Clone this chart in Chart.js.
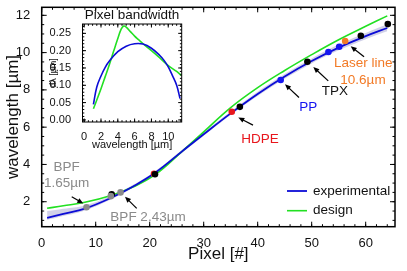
<!DOCTYPE html>
<html>
<head>
<meta charset="utf-8">
<script src="https://cdn.jsdelivr.net/npm/chart.js@4.4.1/dist/chart.umd.min.js"></script>
<style>
  html, body { margin: 0; padding: 0; background: #fff; }
  #wrap { position: relative; width: 407px; height: 271px; }
  #main { position: absolute; left: 0; top: 0; }
  #inset { position: absolute; left: 45px; top: 0; }
</style>
</head>
<body>
<div id="wrap">
  <canvas id="main" width="407" height="271"></canvas>
  <canvas id="inset" width="145" height="156"></canvas>
</div>
<script>
// main curves (pixel -> wavelength)
const pixels = [1, 4, 8, 13, 17, 21, 26, 30, 35, 40, 45, 50, 55, 60, 64];
const experimental = [1.14, 1.35, 1.63, 2.23, 2.83, 3.55, 4.7, 5.62, 6.74, 7.78, 8.72, 9.55, 10.27, 10.88, 11.32];
const design = [1.65, 1.78, 1.97, 2.35, 2.8, 3.45, 4.7, 5.75, 7.05, 8.12, 9.04, 9.89, 10.69, 11.41, 11.97];
const bandUpper = [1.5, 1.62, 1.8, 2.33, 2.92, 3.64, 4.79, 5.71, 6.84, 7.9, 8.85, 9.69, 10.43, 11.05, 11.52];
const bandLower = [1.02, 1.23, 1.53, 2.15, 2.76, 3.48, 4.62, 5.54, 6.65, 7.67, 8.6, 9.42, 10.12, 10.72, 11.14];

// calibration points
const blackX = [12.96, 20.98, 36.7, 49.2, 59.1, 64.1];
const blackY = [2.4, 3.47, 7.09, 9.51, 10.9, 11.53];
const grayX = [8.3, 12.8, 14.6];
const grayY = [1.7, 2.3, 2.5];
const redX = [20.8, 35.2];
const redY = [3.5, 6.83];
const blueX = [44.26, 53.1, 55.1];
const blueY = [8.53, 10.03, 10.31];
const orangeX = [56.2];
const orangeY = [10.62];

const xTicks = [0, 10, 20, 30, 40, 50, 60];
const yTicks = [2, 4, 6, 8, 10, 12];

// inset: pixel bandwidth
const insetLambdaExp = [1.1, 1.5, 2, 2.5, 3, 4, 5, 6, 7, 8, 9, 9.5, 10, 10.5, 11, 11.4];
const insetExp = [0.045, 0.095, 0.127, 0.152, 0.17, 0.197, 0.213, 0.22, 0.219, 0.207, 0.186, 0.172, 0.153, 0.128, 0.1, 0.062];
const insetLambdaDes = [1.1, 2, 2.5, 3, 3.5, 4, 4.4, 4.7, 5, 5.5, 6, 6.5, 7, 8, 9, 10, 11, 11.6];
const insetDes = [0.032, 0.09, 0.125, 0.16, 0.198, 0.235, 0.262, 0.271, 0.268, 0.255, 0.242, 0.231, 0.22, 0.2, 0.179, 0.157, 0.14, 0.128];
const insetXTicks = [0, 2, 4, 6, 8, 10];
const insetYTicks = [0, 0.05, 0.1, 0.15, 0.2, 0.25];

const FONT = 'Liberation Sans, Arial, sans-serif';
const xy = (xs, ys) => xs.map((x, i) => ({ x: x, y: ys[i] }));
const steps = (from, to, step) => {
  const out = [];
  for (let v = from; v <= to + 1e-9; v += step) out.push(+v.toFixed(4));
  return out;
};

// inward ticks on all four sides plus the box
const frameTicks = {
  id: 'frameTicks',
  afterDraw(chart, args, opts) {
    const { ctx, chartArea: a, scales: { x, y } } = chart;
    const line = (x1, y1, x2, y2) => { ctx.beginPath(); ctx.moveTo(x1, y1); ctx.lineTo(x2, y2); ctx.stroke(); };
    ctx.save();
    ctx.strokeStyle = '#000';
    ctx.lineWidth = 1;
    const doX = (vals, len) => vals.forEach(v => {
      const p = x.getPixelForValue(v);
      if (p < a.left || p > a.right) return;
      line(p, a.bottom, p, a.bottom - len);
      line(p, a.top, p, a.top + len);
    });
    const doY = (vals, len) => vals.forEach(v => {
      const p = y.getPixelForValue(v);
      if (p < a.top || p > a.bottom) return;
      line(a.left, p, a.left + len, p);
      line(a.right, p, a.right - len, p);
    });
    doX(opts.xMinor, opts.minorLen);
    doX(opts.xMajor, opts.majorLen);
    doY(opts.yMinor, opts.minorLen);
    doY(opts.yMajor, opts.majorLen);
    ctx.lineWidth = opts.frameWidth;
    ctx.strokeRect(a.left, a.top, a.right - a.left, a.bottom - a.top);
    ctx.restore();
  }
};

// arrows and text labels in data coordinates
const notes = {
  id: 'notes',
  afterDatasetsDraw(chart, args, opts) {
    const { ctx, scales: { x, y } } = chart;
    ctx.save();
    opts.arrows.forEach(ar => {
      const x1 = x.getPixelForValue(ar.from[0]), y1 = y.getPixelForValue(ar.from[1]);
      const x2 = x.getPixelForValue(ar.to[0]), y2 = y.getPixelForValue(ar.to[1]);
      const ang = Math.atan2(y2 - y1, x2 - x1);
      const hl = 6, hw = 2.6;
      ctx.strokeStyle = '#000';
      ctx.fillStyle = '#000';
      ctx.lineWidth = 1.2;
      ctx.beginPath();
      ctx.moveTo(x1, y1);
      ctx.lineTo(x2 - Math.cos(ang) * hl * 0.8, y2 - Math.sin(ang) * hl * 0.8);
      ctx.stroke();
      ctx.beginPath();
      ctx.moveTo(x2, y2);
      ctx.lineTo(x2 - Math.cos(ang) * hl + Math.sin(ang) * hw, y2 - Math.sin(ang) * hl - Math.cos(ang) * hw);
      ctx.lineTo(x2 - Math.cos(ang) * hl - Math.sin(ang) * hw, y2 - Math.sin(ang) * hl + Math.cos(ang) * hw);
      ctx.closePath();
      ctx.fill();
    });
    ctx.font = opts.font;
    ctx.textAlign = 'center';
    ctx.textBaseline = 'middle';
    opts.labels.forEach(lb => {
      ctx.fillStyle = lb.color;
      ctx.fillText(lb.text, x.getPixelForValue(lb.at[0]), y.getPixelForValue(lb.at[1]));
    });
    ctx.restore();
  }
};

// small legend in the lower right corner of the plot
const cornerLegend = {
  id: 'cornerLegend',
  afterDraw(chart, args, opts) {
    const { ctx, chartArea: a } = chart;
    ctx.save();
    ctx.font = opts.font;
    ctx.textAlign = 'left';
    ctx.textBaseline = 'middle';
    opts.items.forEach((label, i) => {
      const ds = chart.data.datasets.find(d => d.label === label);
      const yy = a.bottom - opts.fromBottom + i * opts.gap;
      const x0 = a.right - opts.fromRight;
      ctx.strokeStyle = ds.borderColor;
      ctx.lineWidth = ds.borderWidth;
      ctx.beginPath();
      ctx.moveTo(x0, yy);
      ctx.lineTo(x0 + opts.lineLen, yy);
      ctx.stroke();
      ctx.fillStyle = '#111';
      ctx.fillText(label, x0 + opts.lineLen + 6, yy);
    });
    ctx.restore();
  }
};

const insetTitle = {
  id: 'insetTitle',
  afterDraw(chart, args, opts) {
    const { ctx, chartArea: a } = chart;
    ctx.save();
    ctx.font = opts.font;
    ctx.fillStyle = '#111';
    ctx.textAlign = 'center';
    ctx.textBaseline = 'middle';
    ctx.fillText(opts.text, (a.left + a.right) / 2, opts.y);
    ctx.restore();
  }
};

const pointSet = (label, xs, ys, color, order) => ({
  label: label,
  data: xy(xs, ys),
  showLine: false,
  pointRadius: 3.3,
  pointBorderWidth: 0,
  pointBackgroundColor: color,
  order: order
});

const curve = (label, xs, ys, color, width, order) => ({
  label: label,
  data: xy(xs, ys),
  showLine: true,
  borderColor: color,
  borderWidth: width,
  pointRadius: 0,
  tension: 0.4,
  order: order
});

new Chart(document.getElementById('main'), {
  type: 'scatter',
  data: {
    datasets: [
      Object.assign(curve('band', pixels, bandUpper, 'rgba(0,0,0,0)', 0, 20),
        { fill: '+1', backgroundColor: 'rgba(135,135,195,0.38)' }),
      curve('bandLow', pixels, bandLower, 'rgba(0,0,0,0)', 0, 20),
      curve('design', pixels, design, '#22e022', 1.6, 11),
      curve('experimental', pixels, experimental, '#0c0cd6', 1.8, 10),
      pointSet('red', redX, redY, '#e8161c', 6),
      pointSet('black', blackX, blackY, '#000000', 5),
      pointSet('gray', grayX, grayY, '#8a8a8a', 4),
      pointSet('blue', blueX, blueY, '#1515f0', 3),
      pointSet('orange', orangeX, orangeY, '#f27a26', 2)
    ]
  },
  options: {
    responsive: false,
    animation: false,
    layout: { padding: { left: 0, top: 7.3, right: 12, bottom: 0 } },
    scales: {
      x: {
        type: 'linear', min: 0, max: 65.43,
        grid: { display: false }, border: { display: false },
        afterBuildTicks: s => { s.ticks = xTicks.map(v => ({ value: v })); },
        afterFit: s => { s.height = 44.3; s.paddingLeft = 0; s.paddingRight = 0; },
        ticks: { color: '#111', padding: 1, maxRotation: 0, font: { family: FONT, size: 13 } },
        title: { display: true, text: 'Pixel [#]', color: '#111', padding: { top: 0, bottom: 6.8 }, font: { family: FONT, size: 17 } }
      },
      y: {
        type: 'linear', min: 0.66, max: 12.43,
        grid: { display: false }, border: { display: false },
        afterBuildTicks: s => { s.ticks = yTicks.map(v => ({ value: v })); },
        afterFit: s => { s.width = 41.7; s.paddingTop = 0; s.paddingBottom = 0; },
        ticks: { color: '#111', padding: 3.4, font: { family: FONT, size: 13 } },
        title: { display: true, text: 'wavelength [µm]', color: '#111', padding: { top: 3.3, bottom: 0 }, font: { family: FONT, size: 17 } }
      }
    },
    plugins: {
      legend: { display: false },
      tooltip: { enabled: false },
      frameTicks: {
        xMajor: xTicks, xMinor: steps(0, 64, 2),
        yMajor: yTicks, yMinor: steps(1, 12, 0.5),
        majorLen: 5, minorLen: 2.5, frameWidth: 1.5
      },
      notes: {
        font: '13.5px ' + FONT,
        arrows: [
          { from: [5.56, 2.27], to: [7.7, 1.91] },
          { from: [17.59, 1.64], to: [15.43, 2.27] },
          { from: [39.13, 6.11], to: [36.41, 6.52] },
          { from: [47.65, 7.59], to: [45.06, 8.3] },
          { from: [53.07, 8.48], to: [50.3, 9.23] },
          { from: [59.7, 9.78], to: [57.22, 10.34] }
        ],
        labels: [
          { text: 'BPF', at: [4.63, 3.87], color: '#8a8a8a' },
          { text: '1.65µm', at: [4.63, 2.98], color: '#8a8a8a' },
          { text: 'BPF 2.43µm', at: [19.69, 1.14], color: '#8a8a8a' },
          { text: 'HDPE', at: [40.43, 5.34], color: '#e8161c' },
          { text: 'PP', at: [49.37, 7.05], color: '#1515f0' },
          { text: 'TPX', at: [54.31, 7.94], color: '#111' },
          { text: 'Laser line', at: [59.56, 9.41], color: '#f27a26' },
          { text: '10.6µm', at: [59.5, 8.52], color: '#f27a26' }
        ]
      },
      cornerLegend: {
        font: '13.5px ' + FONT,
        items: ['experimental', 'design'],
        fromRight: 108, fromBottom: 35.7, gap: 19.7, lineLen: 20
      }
    }
  },
  plugins: [frameTicks, notes, cornerLegend]
});

new Chart(document.getElementById('inset'), {
  type: 'scatter',
  data: {
    datasets: [
      curve('design', insetLambdaDes, insetDes, '#22e022', 1.6, 2),
      curve('experimental', insetLambdaExp, insetExp, '#0c0cd6', 1.6, 1)
    ]
  },
  options: {
    responsive: false,
    animation: false,
    layout: { padding: { left: 0, top: 24, right: 8.3, bottom: 0 } },
    scales: {
      x: {
        type: 'linear', min: -0.2, max: 11.6,
        grid: { display: false }, border: { display: false },
        afterBuildTicks: s => { s.ticks = insetXTicks.map(v => ({ value: v })); },
        afterFit: s => { s.height = 34; s.paddingLeft = 0; s.paddingRight = 0; },
        ticks: { color: '#111', padding: 0, maxRotation: 0, font: { family: FONT, size: 11 } },
        title: { display: true, text: 'wavelength [µm]', color: '#111', padding: { top: 0, bottom: 4.4 }, font: { family: FONT, size: 11 } }
      },
      y: {
        type: 'linear', min: -0.006, max: 0.277,
        grid: { display: false }, border: { display: false },
        afterBuildTicks: s => { s.ticks = insetYTicks.map(v => ({ value: v })); },
        afterFit: s => { s.width = 37.5; s.paddingTop = 0; s.paddingBottom = 0; },
        ticks: { color: '#111', padding: 3.5, font: { family: FONT, size: 11 }, callback: v => v.toFixed(2) },
        title: { display: true, text: 'dλ [µm]', color: '#111', padding: { top: 3, bottom: 0 }, font: { family: FONT, size: 9 } }
      }
    },
    plugins: {
      legend: { display: false },
      tooltip: { enabled: false },
      frameTicks: {
        xMajor: insetXTicks, xMinor: steps(0, 11.5, 0.5),
        yMajor: insetYTicks, yMinor: steps(0, 0.27, 0.01),
        majorLen: 3.5, minorLen: 1.8, frameWidth: 1
      },
      insetTitle: { text: 'Pixel bandwidth', font: '13.5px ' + FONT, y: 15 }
    }
  },
  plugins: [frameTicks, insetTitle]
});
</script>
</body>
</html>
